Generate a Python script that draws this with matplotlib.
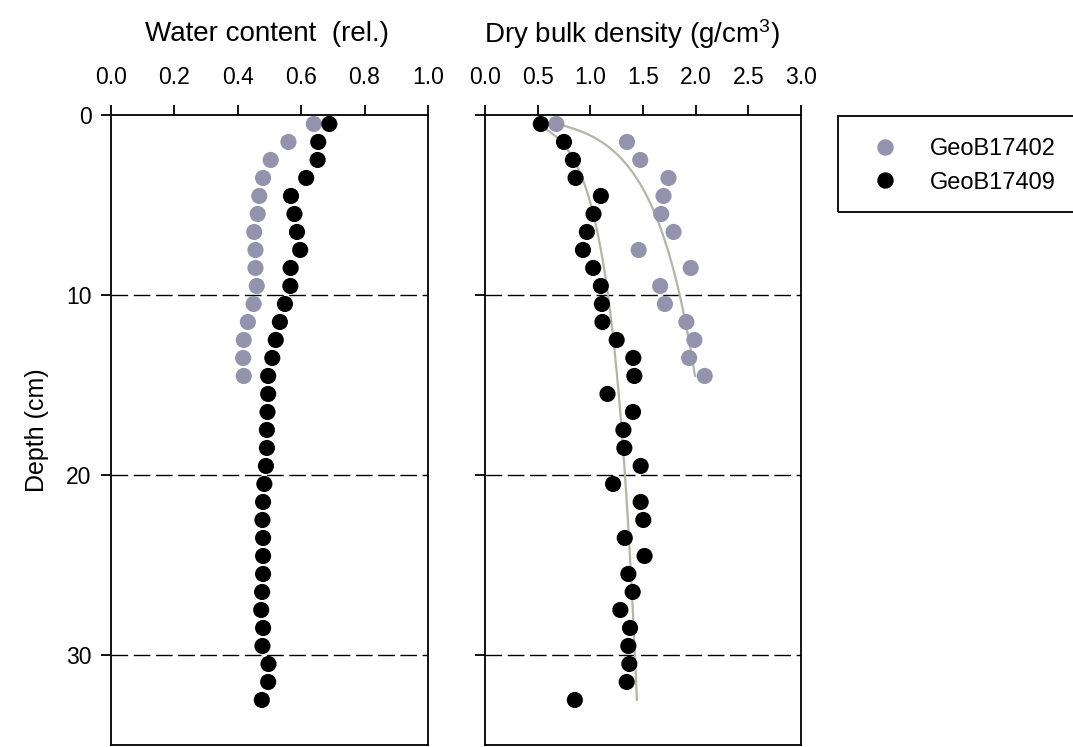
import matplotlib
matplotlib.use("Agg")
import matplotlib.pyplot as plt
import numpy as np
from matplotlib.patches import Rectangle
from matplotlib.lines import Line2D

plt.rcParams["font.family"] = ["Liberation Sans", "DejaVu Sans"]
plt.rcParams["mathtext.fontset"] = "custom"
plt.rcParams["mathtext.rm"] = "Liberation Sans"
plt.rcParams["mathtext.default"] = "regular"

# depths (cm), mid-points of 1 cm slices
depth_402 = np.arange(0.5, 15.0, 1.0)
depth_409 = np.arange(0.5, 33.0, 1.0)

water_402 = [0.64, 0.56, 0.504, 0.48, 0.468, 0.463, 0.452, 0.456, 0.456, 0.46,
             0.45, 0.432, 0.419, 0.417, 0.419]
water_409 = [0.689, 0.654, 0.652, 0.616, 0.568, 0.579, 0.587, 0.597, 0.567, 0.566,
             0.549, 0.533, 0.52, 0.509, 0.496, 0.496, 0.494, 0.492, 0.492, 0.489,
             0.484, 0.48, 0.478, 0.48, 0.48, 0.48, 0.477, 0.474, 0.48, 0.478,
             0.497, 0.496, 0.476]

dens_402 = [0.677, 1.348, 1.474, 1.742, 1.695, 1.673, 1.79, 1.459, 1.953, 1.663,
            1.708, 1.912, 1.988, 1.938, 2.086]
dens_409 = [0.53, 0.75, 0.835, 0.86, 1.10, 1.03, 0.967, 0.93, 1.027, 1.10,
            1.11, 1.115, 1.25, 1.408, 1.418, 1.163, 1.405, 1.314, 1.323, 1.478,
            1.216, 1.478, 1.503, 1.327, 1.515, 1.361, 1.402, 1.285, 1.377, 1.361,
            1.37, 1.345, 0.853]

# log fits shown in the figure: density = a + b*ln(depth)
fit_402 = (0.948, 0.391)
fit_409 = (0.631, 0.233)

grey = "#9393ad"
fitc = "#b4b4a8"
ms = 135

fig = plt.figure(figsize=(10.73, 7.47), dpi=100)
ax1 = fig.add_axes([0.1034, 0.0027, 0.2954, 0.8434])
ax2 = fig.add_axes([0.452, 0.0027, 0.2945, 0.8434])

for ax in (ax1, ax2):
    ax.set_ylim(35, 0)
    ax.set_yticks([0, 10, 20, 30])
    ax.xaxis.tick_top()
    ax.tick_params(axis="both", direction="out", length=7, width=1.3,
                   labelsize=16.5)
    ax.tick_params(axis="x", pad=12)
    ax.tick_params(axis="y", pad=7)
    for s in ax.spines.values():
        s.set_linewidth(1.3)
    for d in [10, 20, 30]:
        ax.axhline(d, color="black", lw=1, dashes=(12, 4), zorder=1)

ax1.set_xlim(0, 1.0)
ax1.set_xticks(np.arange(0, 1.01, 0.2))
ax1.set_xticklabels(["%.1f" % v for v in np.arange(0, 1.01, 0.2)])
ax1.scatter(water_402, depth_402, s=ms, color=grey, edgecolors="none", zorder=3)
ax1.scatter(water_409, depth_409, s=ms, color="black", edgecolors="none", zorder=3)
ax1.set_ylabel("Depth (cm)", fontsize=18, labelpad=12)

ax2.set_xlim(0, 3.0)
ax2.set_xticks(np.arange(0, 3.01, 0.5))
ax2.set_xticklabels(["%.1f" % v for v in np.arange(0, 3.01, 0.5)])
ax2.tick_params(axis="y", labelleft=False)

for dep, (a, b) in [(depth_402, fit_402), (depth_409, fit_409)]:
    zz = np.linspace(dep[0], dep[-1], 200)
    ax2.plot(a + b * np.log(zz), zz, color=fitc, lw=1.6, zorder=2)

ax2.scatter(dens_402, depth_402, s=ms, color=grey, edgecolors="none", zorder=3)
ax2.scatter(dens_409, depth_409, s=ms, color="black", edgecolors="none", zorder=3)

fig.text(0.249, 0.955, "Water content  (rel.)", ha="center", va="center", fontsize=20)
fig.text(0.589, 0.955, "Dry bulk density (g/cm$^3$)", ha="center", va="center", fontsize=20)

# legend box runs off the right edge
fig.patches.append(Rectangle((0.781, 0.716), 0.3, 0.129, transform=fig.transFigure,
                             fill=False, edgecolor="black", lw=1.3))
handles = [Line2D([], [], ls="none", marker="o", markersize=10.8, color=grey),
           Line2D([], [], ls="none", marker="o", markersize=10.8, color="black")]
fig.legend(handles, ["GeoB17402", "GeoB17409"], loc="center left",
           bbox_to_anchor=(0.783, 0.778), frameon=False, fontsize=17,
           handletextpad=0.9, labelspacing=0.5)

fig.savefig("out.png", dpi=100)
